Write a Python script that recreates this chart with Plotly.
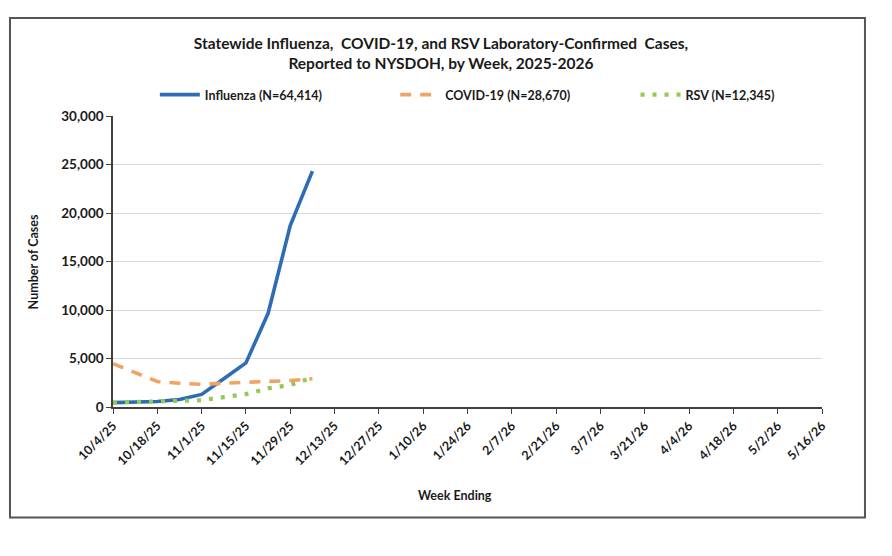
"""
Statewide Influenza, COVID-19 and RSV lab-confirmed cases by week (NYSDOH 2025-2026).
"""
import plotly.graph_objects as go

# --- data ----------------------------------------------------------------
weeks = [
    "10/4/25", "10/11/25", "10/18/25", "10/25/25", "11/1/25", "11/8/25",
    "11/15/25", "11/22/25", "11/29/25", "12/6/25", "12/13/25", "12/20/25",
    "12/27/25", "1/3/26", "1/10/26", "1/17/26", "1/24/26", "1/31/26",
    "2/7/26", "2/14/26", "2/21/26", "2/28/26", "3/7/26", "3/14/26",
    "3/21/26", "3/28/26", "4/4/26", "4/11/26", "4/18/26", "4/25/26",
    "5/2/26", "5/9/26", "5/16/26",
]
tick_labels = weeks[::2]

influenza = [455, 525, 560, 770, 1295, 2905, 4550, 9660, 18700, 24320]
covid = [4475, 3500, 2625, 2450, 2345, 2450, 2520, 2660, 2730, 2915]
rsv = [455, 490, 525, 595, 700, 1015, 1330, 1925, 2275, 3035]

FONT = "Lato"
TXT = "#1a1a1a"

fig = go.Figure()

# each series gets its own one-item legend so they can be spaced like the original
fig.add_trace(go.Scatter(
    x=weeks[:len(influenza)], y=influenza, name="Influenza (N=64,414)",
    mode="lines", line=dict(color="#2E6DB4", width=3.6), legend="legend",
))
fig.add_trace(go.Scatter(
    x=weeks[:len(covid)], y=covid, name="COVID-19 (N=28,670)",
    mode="lines", line=dict(color="#EFA466", width=3.6, dash="11px,9px"),
    legend="legend2",
))
fig.add_trace(go.Scatter(
    x=weeks[:len(rsv)], y=rsv, name="RSV (N=12,345)",
    mode="lines", line=dict(color="#92C957", width=4.2, dash="4px,8px"),
    legend="legend3",
))

# outer chart-area border
fig.add_shape(type="rect", xref="paper", yref="paper",
              x0=-0.1453, x1=1.0606, y0=-0.3794, y1=1.337,
              line=dict(color="#555555", width=2), layer="below")

# axis titles
fig.add_annotation(text="Number of Cases", xref="paper", yref="paper",
                   x=-0.125, y=0.5, textangle=-90, showarrow=False,
                   font=dict(family=FONT, size=12.5, color=TXT, weight="bold"))
fig.add_annotation(text="Week Ending", xref="paper", yref="paper",
                   x=0.482, y=-0.338, showarrow=False,
                   font=dict(family=FONT, size=12.5, color=TXT, weight="bold"))

leg_font = dict(family=FONT, size=12.5, color=TXT, weight="bold")
leg_common = dict(y=1.072, yanchor="middle", xanchor="left", itemwidth=40,
                  bgcolor="rgba(0,0,0,0)", font=leg_font)

# the page body adds an 8px offset, so margins are trimmed by 8 on the left/top
fig.update_layout(
    width=892, height=556,
    margin=dict(l=105, r=78, t=108, b=157),
    paper_bgcolor="white", plot_bgcolor="white",
    font=dict(family=FONT, color=TXT),
    title=dict(
        text="Statewide Influenza,  COVID-19, and RSV Laboratory-Confirmed  Cases,<br>"
             "Reported to NYSDOH, by Week, 2025-2026",
        x=0.4854, xanchor="center", xref="container",
        y=0.927, yanchor="middle", yref="container",
        font=dict(family=FONT, size=15.5, color=TXT, weight="bold"),
    ),
    legend=dict(x=0.059, **leg_common),
    legend2=dict(x=0.398, **leg_common),
    legend3=dict(x=0.737, **leg_common),
    showlegend=True,
)

fig.update_xaxes(
    type="category", categoryorder="array", categoryarray=weeks,
    range=[0, len(weeks) - 1],
    tickmode="array", tickvals=tick_labels, ticktext=tick_labels,
    tickangle=-45, ticks="outside", ticklen=5, tickcolor="#404040",
    showline=True, linecolor="#404040", linewidth=1.5,
    showgrid=False, zeroline=False,
    tickfont=dict(family=FONT, size=12.5, color=TXT, weight="bold"),
)
fig.update_yaxes(
    range=[0, 30000], dtick=5000, tickformat=",",
    ticks="outside", ticklen=5, tickcolor="#404040",
    showline=True, linecolor="#404040", linewidth=1.5,
    showgrid=True, gridcolor="#D9D9D9", gridwidth=1, zeroline=False,
    tickfont=dict(family=FONT, size=13.5, color=TXT, weight="bold"),
)

fig.write_html("out.html")
